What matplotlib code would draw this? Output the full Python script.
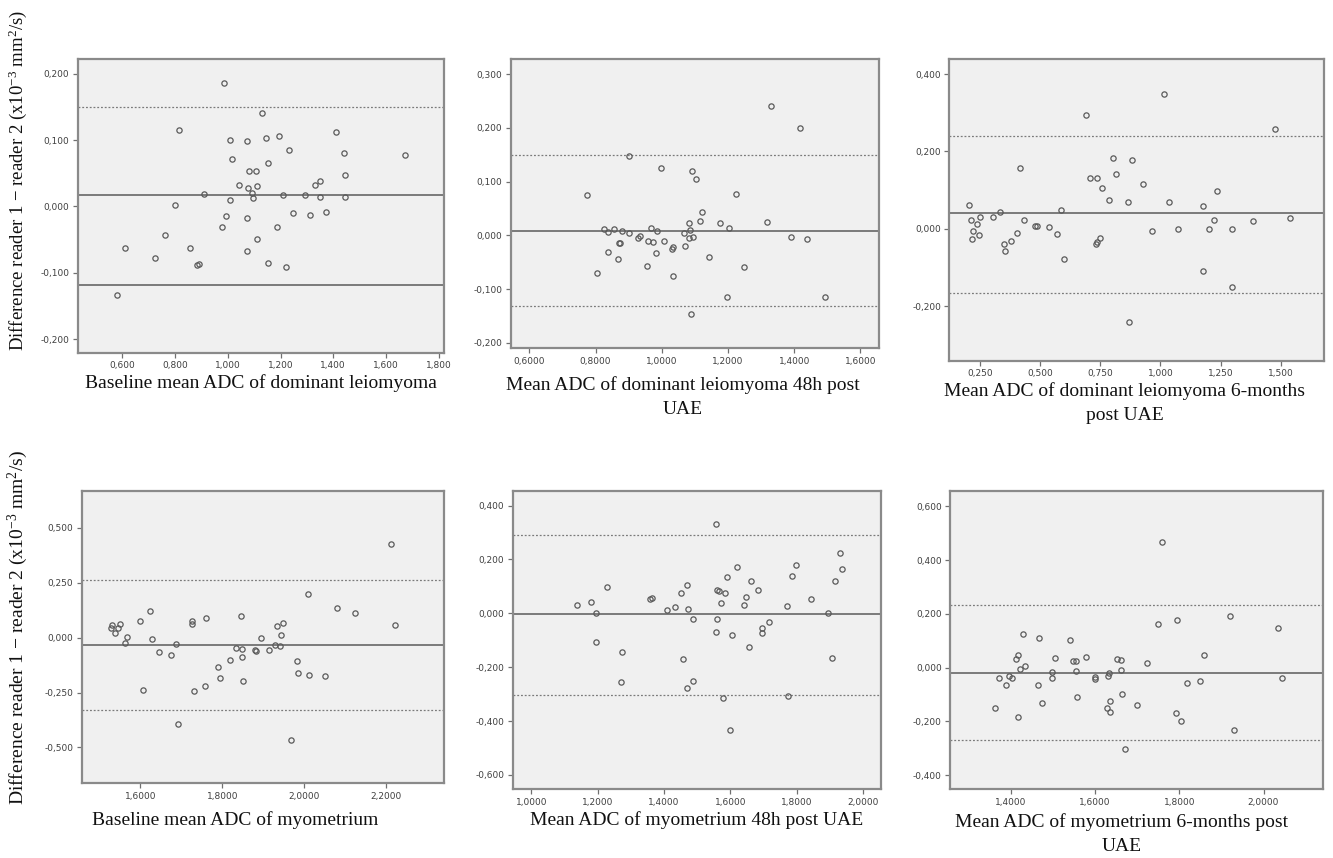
import matplotlib
matplotlib.use("Agg")
import matplotlib.pyplot as plt
from matplotlib.ticker import FuncFormatter, MultipleLocator

plt.rcParams['mathtext.fontset'] = 'custom'
plt.rcParams['mathtext.rm'] = 'Liberation Serif'
plt.rcParams['mathtext.it'] = 'Liberation Serif'
plt.rcParams['mathtext.default'] = 'regular'

# panel 1 : baseline leiomyoma
p1_x = [0.987, 1.129, 0.815, 1.007, 1.072, 1.146, 1.193, 1.411, 1.234, 1.440, 1.673, 1.015,
        1.153, 1.079, 1.106, 1.446, 1.044, 1.078, 1.109, 1.329, 1.348, 1.092, 1.095, 0.910,
        1.211, 1.292, 1.349, 1.444, 1.007, 0.801, 0.992, 1.072, 1.248, 1.310, 1.372, 0.980,
        1.187, 1.112, 0.762, 0.611, 0.857, 0.724, 1.074, 0.883, 0.891, 1.152, 1.222, 0.581]
p1_y = [0.186, 0.141, 0.116, 0.100, 0.099, 0.104, 0.107, 0.113, 0.085, 0.080, 0.078, 0.071,
        0.066, 0.054, 0.053, 0.047, 0.033, 0.028, 0.031, 0.033, 0.038, 0.020, 0.013, 0.019,
        0.017, 0.017, 0.014, 0.015, 0.010, 0.002, -0.015, -0.018, -0.010, -0.013, -0.008, -0.031,
        -0.031, -0.049, -0.043, -0.063, -0.063, -0.077, -0.067, -0.089, -0.087, -0.085, -0.092, -0.134]

# panel 2 : leiomyoma 48h
p2_x = [1.330, 1.418, 0.902, 0.999, 1.091, 1.104, 0.774, 1.223, 1.121, 1.114, 1.081, 1.177,
        1.318, 0.826, 0.855, 0.837, 0.881, 0.902, 0.968, 0.987, 1.086, 1.203, 1.066, 0.927,
        0.933, 1.082, 1.095, 1.390, 1.440, 0.958, 0.974, 1.008, 0.872, 0.874, 1.069, 1.035,
        1.032, 0.837, 0.983, 0.868, 1.143, 0.954, 1.248, 0.804, 1.033, 1.198, 1.493, 1.089]
p2_y = [0.241, 0.200, 0.147, 0.125, 0.120, 0.105, 0.076, 0.077, 0.044, 0.027, 0.024, 0.024,
        0.025, 0.012, 0.012, 0.007, 0.008, 0.005, 0.014, 0.009, 0.010, 0.014, 0.004, -0.004,
        -0.001, -0.004, -0.003, -0.003, -0.007, -0.011, -0.012, -0.011, -0.015, -0.015, -0.019, -0.022,
        -0.025, -0.030, -0.033, -0.043, -0.040, -0.056, -0.058, -0.070, -0.075, -0.114, -0.115, -0.146]

# panel 3 : leiomyoma 6 months
p3_x = [1.016, 0.693, 1.474, 0.802, 0.881, 0.419, 0.814, 0.706, 0.735, 0.926, 0.759, 1.236,
        0.785, 0.864, 1.036, 0.206, 1.175, 0.589, 0.334, 0.251, 0.304, 0.213, 0.433, 1.224,
        1.383, 1.538, 0.238, 0.480, 0.487, 0.539, 0.224, 0.249, 0.217, 0.405, 0.571, 0.965,
        1.074, 1.202, 1.296, 0.351, 0.380, 0.355, 0.748, 0.737, 0.731, 0.599, 1.177, 1.298, 0.871]
p3_y = [0.348, 0.295, 0.258, 0.184, 0.178, 0.158, 0.142, 0.131, 0.132, 0.115, 0.107, 0.099,
        0.074, 0.069, 0.069, 0.062, 0.059, 0.050, 0.043, 0.031, 0.030, 0.023, 0.024, 0.022,
        0.020, 0.028, 0.013, 0.008, 0.008, 0.006, -0.006, -0.015, -0.026, -0.010, -0.013, -0.005,
        0.000, 0.000, 0.000, -0.039, -0.030, -0.056, -0.023, -0.034, -0.039, -0.078, -0.109, -0.149, -0.239]

# panel 4 : baseline myometrium
p4_x = [2.211, 2.010, 2.081, 2.125, 2.222, 1.623, 1.600, 1.847, 1.760, 1.727, 1.727, 1.528,
        1.532, 1.546, 1.550, 1.538, 1.568, 1.562, 1.628, 1.687, 1.646, 1.675, 1.934, 1.948,
        1.943, 1.894, 1.833, 1.848, 1.880, 1.882, 1.914, 1.930, 1.940, 1.849, 1.818, 1.982,
        1.790, 1.795, 1.984, 2.012, 2.052, 1.757, 1.850, 1.606, 1.730, 1.693, 1.968]
p4_y = [0.428, 0.198, 0.136, 0.113, 0.059, 0.123, 0.076, 0.097, 0.090, 0.076, 0.064, 0.044,
        0.056, 0.046, 0.061, 0.020, 0.002, -0.024, -0.008, -0.030, -0.065, -0.078, 0.053, 0.065,
        0.012, 0.000, -0.046, -0.050, -0.058, -0.062, -0.058, -0.035, -0.037, -0.087, -0.100, -0.105,
        -0.134, -0.186, -0.161, -0.169, -0.175, -0.219, -0.199, -0.239, -0.245, -0.393, -0.467]

# panel 5 : myometrium 48h
p5_x = [1.556, 1.929, 1.797, 1.938, 1.621, 1.591, 1.786, 1.663, 1.915, 1.229, 1.469, 1.559,
        1.565, 1.583, 1.684, 1.450, 1.646, 1.357, 1.364, 1.842, 1.572, 1.642, 1.770, 1.138,
        1.180, 1.432, 1.408, 1.473, 1.194, 1.895, 1.487, 1.559, 1.716, 1.695, 1.696, 1.556,
        1.606, 1.655, 1.195, 1.273, 1.457, 1.905, 1.270, 1.486, 1.468, 1.577, 1.775, 1.600]
p5_y = [0.332, 0.225, 0.178, 0.163, 0.170, 0.134, 0.140, 0.121, 0.120, 0.097, 0.105, 0.087,
        0.084, 0.077, 0.087, 0.077, 0.062, 0.054, 0.056, 0.052, 0.040, 0.032, 0.027, 0.031,
        0.042, 0.024, 0.014, 0.017, 0.000, 0.000, -0.021, -0.021, -0.032, -0.054, -0.072, -0.068,
        -0.079, -0.124, -0.106, -0.145, -0.171, -0.167, -0.256, -0.252, -0.278, -0.313, -0.308, -0.433]

# panel 6 : myometrium 6 months
p6_x = [1.758, 1.921, 1.794, 1.749, 2.034, 1.429, 1.466, 1.539, 1.417, 1.411, 1.859, 1.505,
        1.579, 1.652, 1.662, 1.548, 1.555, 1.724, 1.433, 1.422, 1.498, 1.555, 1.662, 1.632,
        1.630, 1.600, 1.600, 1.396, 1.403, 1.371, 1.498, 2.045, 1.850, 1.818, 1.389, 1.464,
        1.664, 1.556, 1.635, 1.473, 1.700, 1.362, 1.628, 1.634, 1.793, 1.417, 1.803, 1.930, 1.672]
p6_y = [0.467, 0.192, 0.176, 0.162, 0.147, 0.125, 0.109, 0.103, 0.046, 0.031, 0.046, 0.035,
        0.041, 0.033, 0.027, 0.024, 0.024, 0.019, 0.007, -0.004, -0.016, -0.014, -0.007, -0.020,
        -0.030, -0.033, -0.042, -0.032, -0.038, -0.040, -0.040, -0.037, -0.051, -0.058, -0.064, -0.066,
        -0.098, -0.108, -0.124, -0.133, -0.139, -0.151, -0.150, -0.164, -0.167, -0.185, -0.200, -0.233, -0.304]

# mean, upper limit, lower limit for each panel
means = [0.017, 0.009, 0.040, -0.035, -0.002, -0.019]
upper = [0.150, 0.149, 0.240, 0.262, 0.290, 0.233]
lower = [-0.119, -0.131, -0.164, -0.329, -0.302, -0.269]

xlabels = ["Baseline mean ADC of dominant leiomyoma",
           "Mean ADC of dominant leiomyoma 48h post\nUAE",
           "Mean ADC of dominant leiomyoma 6-months\npost UAE",
           "Baseline mean ADC of myometrium",
           "Mean ADC of myometrium 48h post UAE",
           "Mean ADC of myometrium 6-months post\nUAE"]
ylabel = r"Difference reader 1 $-$ reader 2 (x10$^{-3}$ mm$^{2}$/s)"

xs = [p1_x, p2_x, p3_x, p4_x, p5_x, p6_x]
ys = [p1_y, p2_y, p3_y, p4_y, p5_y, p6_y]

boxes = [[0.0583, 0.5886, 0.2748, 0.3430],
         [0.3831, 0.5940, 0.2763, 0.3372],
         [0.7122, 0.5796, 0.2813, 0.3513],
         [0.0613, 0.0870, 0.2720, 0.3411],
         [0.3846, 0.0801, 0.2763, 0.3480],
         [0.7127, 0.0801, 0.2800, 0.3480]]
xlims = [(0.431, 1.82), (0.5436, 1.656), (0.124, 1.680), (1.457, 2.342), (0.944, 2.054), (1.255, 2.142)]
ylims = [(-0.221, 0.223), (-0.210, 0.328), (-0.340, 0.438), (-0.664, 0.670), (-0.653, 0.455), (-0.452, 0.658)]
xsteps = [0.2, 0.2, 0.25, 0.2, 0.2, 0.2]
ysteps = [0.1, 0.1, 0.2, 0.25, 0.2, 0.2]
xdec = [3, 4, 3, 4, 4, 4]
lower_solid = [True, False, False, False, False, False]
label_pos = [(261, 383), (683, 397), (1125, 403), (235, 820), (697, 820), (1122, 834)]

fig = plt.figure(figsize=(13.33, 8.58), dpi=100)

for i in range(6):
    ax = fig.add_axes(boxes[i])
    ax.set_facecolor('#f0f0f0')
    ax.axhline(means[i], color='#7a7a7a', lw=1.4, zorder=1)
    ax.axhline(upper[i], color='#7a7a7a', lw=0.9, ls=(0, (1.5, 1.5)), zorder=1)
    if lower_solid[i]:
        ax.axhline(lower[i], color='#7a7a7a', lw=1.4, zorder=1)
    else:
        ax.axhline(lower[i], color='#7a7a7a', lw=0.9, ls=(0, (1.5, 1.5)), zorder=1)
    ax.plot(xs[i], ys[i], 'o', mfc='none', mec='#5a5a5a', ms=3.8, mew=0.9, zorder=2)
    ax.set_xlim(xlims[i])
    ax.set_ylim(ylims[i])
    ax.xaxis.set_major_locator(MultipleLocator(xsteps[i]))
    ax.yaxis.set_major_locator(MultipleLocator(ysteps[i]))
    d = xdec[i]
    ax.xaxis.set_major_formatter(FuncFormatter(lambda v, p, d=d: f"{v:.{d}f}".replace('.', ',')))
    ax.yaxis.set_major_formatter(FuncFormatter(lambda v, p: f"{v:.3f}".replace('.', ',')))
    for s in ax.spines.values():
        s.set_color('#8a8a8a')
        s.set_linewidth(1.6)
    ax.tick_params(direction='out', length=3.5, width=0.9, color='#707070',
                   labelsize=6.5, labelcolor='#404040', pad=2.5)
    cx, cy = label_pos[i]
    fig.text(cx / 1333, 1 - cy / 858, xlabels[i], ha='center', va='center',
             family='Liberation Serif', fontsize=14, color='#111111', linespacing=1.5)

fig.text(18 / 1333, 1 - 180 / 858, ylabel, rotation=90, ha='center', va='center',
         family='Liberation Serif', fontsize=13.5, color='#111111')
fig.text(18 / 1333, 1 - 628 / 858, ylabel, rotation=90, ha='center', va='center',
         family='Liberation Serif', fontsize=14, color='#111111')

fig.savefig('out.png', dpi=100)
